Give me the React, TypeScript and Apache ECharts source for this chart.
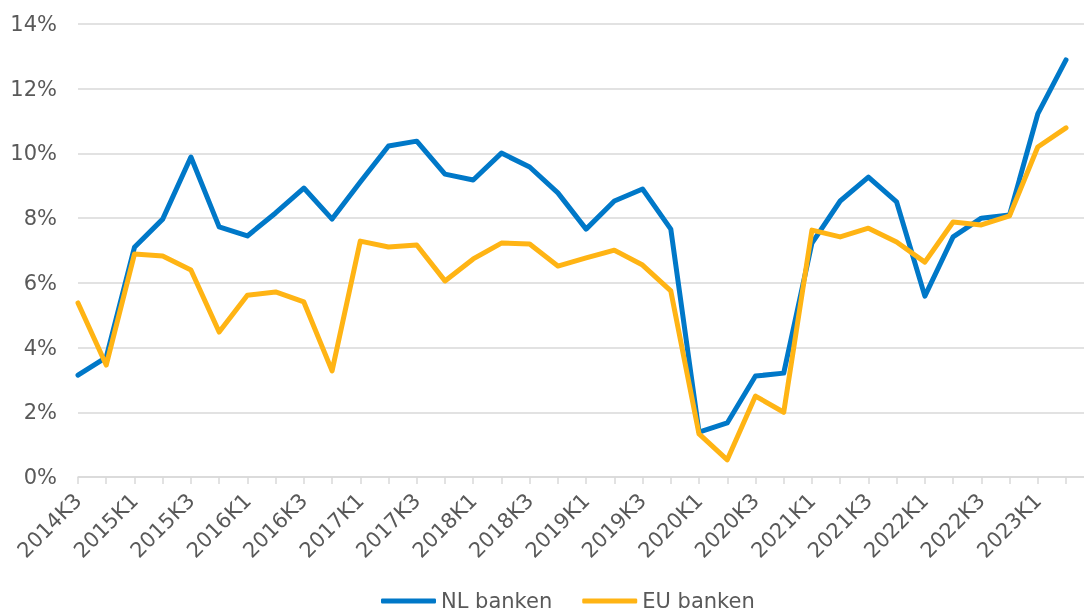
import React, { useEffect, useRef } from "react";
import * as echarts from "echarts";

const categories = [
  "2014K3", "2014K4", "2015K1", "2015K2", "2015K3", "2015K4",
  "2016K1", "2016K2", "2016K3", "2016K4", "2017K1", "2017K2",
  "2017K3", "2017K4", "2018K1", "2018K2", "2018K3", "2018K4",
  "2019K1", "2019K2", "2019K3", "2019K4", "2020K1", "2020K2",
  "2020K3", "2020K4", "2021K1", "2021K2", "2021K3", "2021K4",
  "2022K1", "2022K2", "2022K3", "2022K4", "2023K1", "2023K2",
];

const nlBanken = [
  3.15, 3.7, 7.1, 7.97, 9.89, 7.73, 7.45, 8.16, 8.93, 7.97, 9.12, 10.23,
  10.38, 9.36, 9.18, 10.01, 9.58, 8.78, 7.66, 8.53, 8.9, 7.66, 1.39, 1.67,
  3.12, 3.21, 7.23, 8.53, 9.27, 8.5, 5.59, 7.42, 8.0, 8.1, 11.22, 12.89,
];

const euBanken = [
  5.38, 3.46, 6.89, 6.83, 6.4, 4.48, 5.62, 5.72, 5.41, 3.28, 7.29, 7.11,
  7.17, 6.06, 6.74, 7.23, 7.2, 6.52, 6.77, 7.01, 6.55, 5.75, 1.33, 0.53,
  2.5, 2.0, 7.63, 7.42, 7.69, 7.26, 6.64, 7.88, 7.79, 8.07, 10.2, 10.79,
];

const yTicks = { min: 0, max: 14, interval: 2 };

const FONT = "DejaVu Sans";
const TEXT = "#595959";
const GRID = "#D9D9D9";
const BLUE = "#0078C8";
const YELLOW = "#FFB414";

export default function App() {
  const ref = useRef<HTMLDivElement>(null);
  useEffect(() => {
    const chart = echarts.init(ref.current!, null, { renderer: "svg" });
    chart.setOption({
      animation: false,
      grid: [
        { left: 78, right: 18, top: 24, bottom: 138 },
        { left: 78, right: 0, top: 24, bottom: 138 },
      ],
      legend: {
        left: 381,
        top: 589,
        icon: "roundRect",
        itemWidth: 55,
        itemHeight: 5,
        itemGap: 30,
        padding: 0,
        textStyle: { fontFamily: FONT, fontSize: 21, color: TEXT, lineHeight: 24 },
        data: ["NL banken", "EU banken"],
      },
      xAxis: [
        {
          type: "category",
          gridIndex: 0,
          data: categories,
          boundaryGap: false,
          axisLine: { show: false },
          axisTick: {
            show: true,
            interval: 0,
            length: 7,
            lineStyle: { color: GRID, width: 1.5 },
          },
          axisLabel: {
            interval: 1,
            rotate: 45,
            margin: 20,
            fontFamily: FONT,
            fontSize: 21,
            color: TEXT,
          },
          splitLine: { show: false },
        },
        {
          type: "value",
          gridIndex: 1,
          min: 0,
          max: 1,
          axisLine: { show: true, lineStyle: { color: GRID, width: 1.5 } },
          axisTick: { show: false },
          axisLabel: { show: false },
          splitLine: { show: false },
        },
      ],
      yAxis: [
        {
          type: "value",
          gridIndex: 0,
          ...yTicks,
          axisLine: { show: false },
          axisTick: { show: false },
          axisLabel: {
            formatter: "{value}%",
            margin: 21,
            fontFamily: FONT,
            fontSize: 21,
            color: TEXT,
          },
          splitLine: { show: false },
        },
        {
          type: "value",
          gridIndex: 1,
          ...yTicks,
          axisLine: { show: false },
          axisTick: { show: false },
          axisLabel: { show: false },
          splitLine: { show: true, lineStyle: { color: GRID, width: 1.5 } },
        },
      ],
      series: [
        {
          name: "NL banken",
          type: "line",
          xAxisIndex: 0,
          yAxisIndex: 0,
          data: nlBanken,
          symbol: "none",
          itemStyle: { color: BLUE },
          lineStyle: { color: BLUE, width: 5, join: "round", cap: "round" },
          z: 3,
        },
        {
          name: "EU banken",
          type: "line",
          xAxisIndex: 0,
          yAxisIndex: 0,
          data: euBanken,
          symbol: "none",
          itemStyle: { color: YELLOW },
          lineStyle: { color: YELLOW, width: 5, join: "round", cap: "round" },
          z: 4,
        },
      ],
    });
    return () => chart.dispose();
  }, []);
  return (
    <div
      ref={ref}
      style={{ position: "fixed", left: 0, top: 0, width: 1084, height: 615 }}
    />
  );
}
